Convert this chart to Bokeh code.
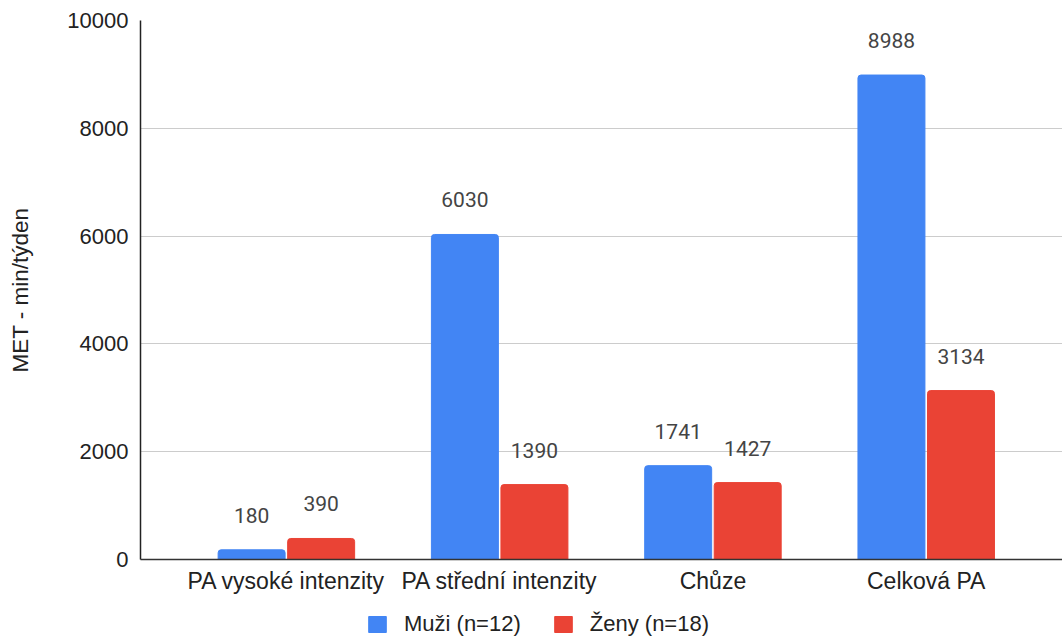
from bokeh.plotting import figure
from bokeh.layouts import column
from bokeh.models import (ColumnDataSource, Range1d, FixedTicker, LabelSet,
                          Legend, LegendItem)
from bokeh.core.properties import value
from bokeh.embed import file_html
from bokeh.resources import INLINE

categories = ["PA vysoké intenzity", "PA střední intenzity", "Chůze", "Celková PA"]
muzi = [180, 6030, 1741, 8988]
zeny = [390, 1390, 1427, 3134]
series_names = ["Muži (n=12)", "Ženy (n=18)"]
y_ticks = [0, 2000, 4000, 6000, 8000, 10000]

BLUE = "#4285F4"
RED = "#EA4335"
FONT = "Liberation Sans"

idx = list(range(len(categories)))
bw = 0.314
off = 0.163

src_m = ColumnDataSource(dict(x=[i - off for i in idx], top=muzi,
                              lbl=[str(v) for v in muzi]))
src_z = ColumnDataSource(dict(x=[i + off for i in idx], top=zeny,
                              lbl=[str(v) for v in zeny]))

p = figure(width=1062, height=603, output_backend="svg", toolbar_location=None,
           x_range=Range1d(-0.684, 3.639), y_range=Range1d(0, 10000),
           min_border_left=140, min_border_top=20, min_border_bottom=44,
           min_border_right=0)
p.outline_line_color = None
p.background_fill_color = "white"
p.border_fill_color = "white"

rm = p.vbar(x="x", top="top", width=bw, source=src_m, fill_color=BLUE,
            line_color=BLUE, border_radius=(3, 3, 0, 0))
rz = p.vbar(x="x", top="top", width=bw, source=src_z, fill_color=RED,
            line_color=RED, border_radius=(3, 3, 0, 0))

for s in (src_m, src_z):
    p.add_layout(LabelSet(x="x", y="top", text="lbl", source=s, y_offset=27,
                          text_align="center", text_baseline="bottom",
                          text_font=value("Roboto"), text_font_size=value("21px"),
                          text_color="#444444"))

# axes
p.xaxis.ticker = FixedTicker(ticks=idx)
p.xaxis.major_label_overrides = {i: c for i, c in zip(idx, categories)}
p.xaxis.major_label_text_font = FONT
p.xaxis.major_label_text_font_size = "23px"
p.xaxis.major_label_text_color = "#222222"
p.xaxis.major_label_standoff = 8
p.xaxis.major_tick_out = 0
p.xaxis.major_tick_in = 0
p.xaxis.major_tick_line_color = None
p.xaxis.minor_tick_line_color = None
p.xaxis.axis_line_color = "#333333"
p.xaxis.axis_line_width = 1.5

p.yaxis.ticker = FixedTicker(ticks=y_ticks)
p.yaxis.major_label_text_font = FONT
p.yaxis.major_label_text_font_size = "22px"
p.yaxis.major_label_text_color = "#222222"
p.yaxis.major_label_standoff = 12
p.yaxis.major_tick_out = 0
p.yaxis.major_tick_in = 0
p.yaxis.major_tick_line_color = None
p.yaxis.minor_tick_line_color = None
p.yaxis.axis_line_color = "#222222"
p.yaxis.axis_line_width = 1.5
p.yaxis.axis_label = "MET - min/týden"
p.yaxis.axis_label_text_font = FONT
p.yaxis.axis_label_text_font_size = "22.5px"
p.yaxis.axis_label_text_font_style = "normal"
p.yaxis.axis_label_text_color = "#222222"
p.yaxis.axis_label_standoff = 31

p.xgrid.grid_line_color = None
p.ygrid.grid_line_color = "#cccccc"
p.ygrid.grid_line_width = 1

# legend strip below the chart (its view is far from the bars; only the legend shows)
lg = figure(width=1062, height=34, output_backend="svg", toolbar_location=None,
            x_range=Range1d(1000, 1001), y_range=Range1d(100000, 100001),
            x_axis_type=None, y_axis_type=None, min_border=0)
lg.outline_line_color = None
lg.background_fill_color = "white"
lg.border_fill_color = "white"
lm = lg.vbar(x="x", top="top", width=bw, source=src_m, fill_color=BLUE, line_color=BLUE)
lz = lg.vbar(x="x", top="top", width=bw, source=src_z, fill_color=RED, line_color=RED)

legend = Legend(items=[LegendItem(label=series_names[0], renderers=[lm]),
                       LegendItem(label=series_names[1], renderers=[lz])],
                orientation="horizontal", location=(226, 0),
                padding=0, margin=0, spacing=31, label_standoff=16,
                glyph_width=22, glyph_height=20, label_height=20,
                border_line_color=None, background_fill_alpha=0,
                label_text_font=FONT, label_text_font_size="22px",
                label_text_color="#222222", label_text_baseline="middle")
lg.add_layout(legend, "center")

layout = column(p, lg, spacing=0)
open("out.html", "w").write(file_html(layout, INLINE))
